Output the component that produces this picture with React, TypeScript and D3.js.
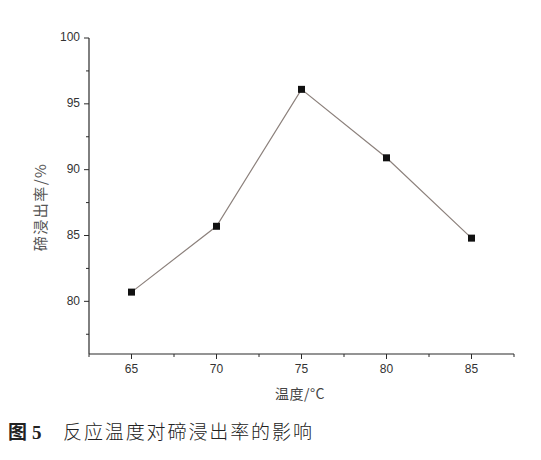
import React, { useEffect, useRef } from 'react';
import * as d3 from 'd3';

const temps = [65, 70, 75, 80, 85];
const leachRate = [80.7, 85.7, 96.1, 90.9, 84.8];
const xTicks = [65, 70, 75, 80, 85];
const yTicks = [80, 85, 90, 95, 100];
const xMinor = [62.5, 67.5, 72.5, 77.5, 82.5, 87.5];
const yMinor = [77.5, 82.5, 87.5, 92.5, 97.5];

const App: React.FC = () => {
  const svgRef = useRef<SVGSVGElement>(null);

  useEffect(() => {
    if (!svgRef.current) return;
    const svg = d3.select(svgRef.current);
    svg.selectAll('*').remove();

    const left = 89;
    const right = 514;
    const top = 38;
    const bottom = 354;

    const x = d3.scaleLinear().domain([62.5, 87.5]).range([left, right]);
    const y = d3.scaleLinear().domain([76, 100]).range([bottom, top]);

    const font = '"Liberation Sans", Arial, sans-serif';
    const axisColor = '#2a2a2a';

    // axis lines
    svg.append('line')
      .attr('x1', left).attr('x2', left)
      .attr('y1', top).attr('y2', bottom)
      .attr('stroke', axisColor).attr('stroke-width', 1.2);
    svg.append('line')
      .attr('x1', left).attr('x2', right)
      .attr('y1', bottom).attr('y2', bottom)
      .attr('stroke', axisColor).attr('stroke-width', 1.2);

    // major ticks
    svg.selectAll('.xt').data(xTicks).enter().append('line')
      .attr('x1', d => x(d)).attr('x2', d => x(d))
      .attr('y1', bottom).attr('y2', bottom + 5)
      .attr('stroke', axisColor).attr('stroke-width', 1);
    svg.selectAll('.yt').data(yTicks).enter().append('line')
      .attr('x1', left - 5).attr('x2', left)
      .attr('y1', d => y(d)).attr('y2', d => y(d))
      .attr('stroke', axisColor).attr('stroke-width', 1);

    // minor ticks
    svg.selectAll('.xm').data(xMinor).enter().append('line')
      .attr('x1', d => x(d)).attr('x2', d => x(d))
      .attr('y1', bottom).attr('y2', bottom + 3)
      .attr('stroke', axisColor).attr('stroke-width', 1);
    svg.selectAll('.ym').data(yMinor).enter().append('line')
      .attr('x1', left - 3).attr('x2', left)
      .attr('y1', d => y(d)).attr('y2', d => y(d))
      .attr('stroke', axisColor).attr('stroke-width', 1);

    // tick labels
    svg.selectAll('.xl').data(xTicks).enter().append('text')
      .attr('x', d => x(d)).attr('y', bottom + 16)
      .attr('dominant-baseline', 'middle')
      .attr('text-anchor', 'middle')
      .attr('font-family', font).attr('font-size', 12)
      .attr('fill', '#333')
      .text(d => d);
    svg.selectAll('.yl').data(yTicks).enter().append('text')
      .attr('x', left - 9).attr('y', d => y(d))
      .attr('dominant-baseline', 'middle')
      .attr('text-anchor', 'end')
      .attr('font-family', font).attr('font-size', 12)
      .attr('fill', '#333')
      .text(d => d);

    // axis titles
    svg.append('text')
      .attr('transform', `translate(42, 207) rotate(-90)`)
      .attr('text-anchor', 'middle')
      .attr('dominant-baseline', 'middle')
      .attr('font-family', '"Noto Sans CJK SC", sans-serif')
      .attr('font-size', 15)
      .attr('letter-spacing', 1.5)
      .attr('fill', '#555')
      .text('碲浸出率/%');
    svg.append('text')
      .attr('x', 300).attr('y', 395)
      .attr('text-anchor', 'middle')
      .attr('dominant-baseline', 'middle')
      .attr('font-family', '"Noto Sans CJK SC", sans-serif')
      .attr('font-size', 14)
      .attr('letter-spacing', 0.5)
      .attr('fill', '#444')
      .text('温度/°C');

    const pts = temps.map((t, i) => [t, leachRate[i]] as [number, number]);

    const line = d3.line<[number, number]>()
      .x(d => x(d[0]))
      .y(d => y(d[1]));

    svg.append('path')
      .datum(pts)
      .attr('d', line)
      .attr('fill', 'none')
      .attr('stroke', '#8c817c')
      .attr('stroke-width', 1.2);

    const s = 7;
    svg.selectAll('.pt').data(pts).enter().append('rect')
      .attr('x', d => x(d[0]) - s / 2)
      .attr('y', d => y(d[1]) - s / 2)
      .attr('width', s).attr('height', s)
      .attr('fill', '#111');

    // caption
    const cap = svg.append('text')
      .attr('x', 8).attr('y', 439)
      .attr('font-size', 19)
      .attr('fill', '#222');
    cap.append('tspan')
      .attr('font-family', '"Noto Sans CJK SC", sans-serif')
      .attr('font-weight', 'bold')
      .text('图');
    cap.append('tspan')
      .attr('x', 32)
      .attr('font-family', '"Liberation Serif", serif')
      .attr('font-weight', 'bold')
      .text('5');
    cap.append('tspan')
      .attr('x', 63)
      .attr('font-family', '"Noto Sans CJK SC", sans-serif')
      .attr('font-weight', 300)
      .attr('letter-spacing', 1.9)
      .text('反应温度对碲浸出率的影响');
  }, []);

  return (
    <div style={{ position: 'absolute', left: 0, top: 0, background: '#fff' }}>
      <svg ref={svgRef} width={541} height={460} style={{ display: 'block' }} />
    </div>
  );
};

export default App;
